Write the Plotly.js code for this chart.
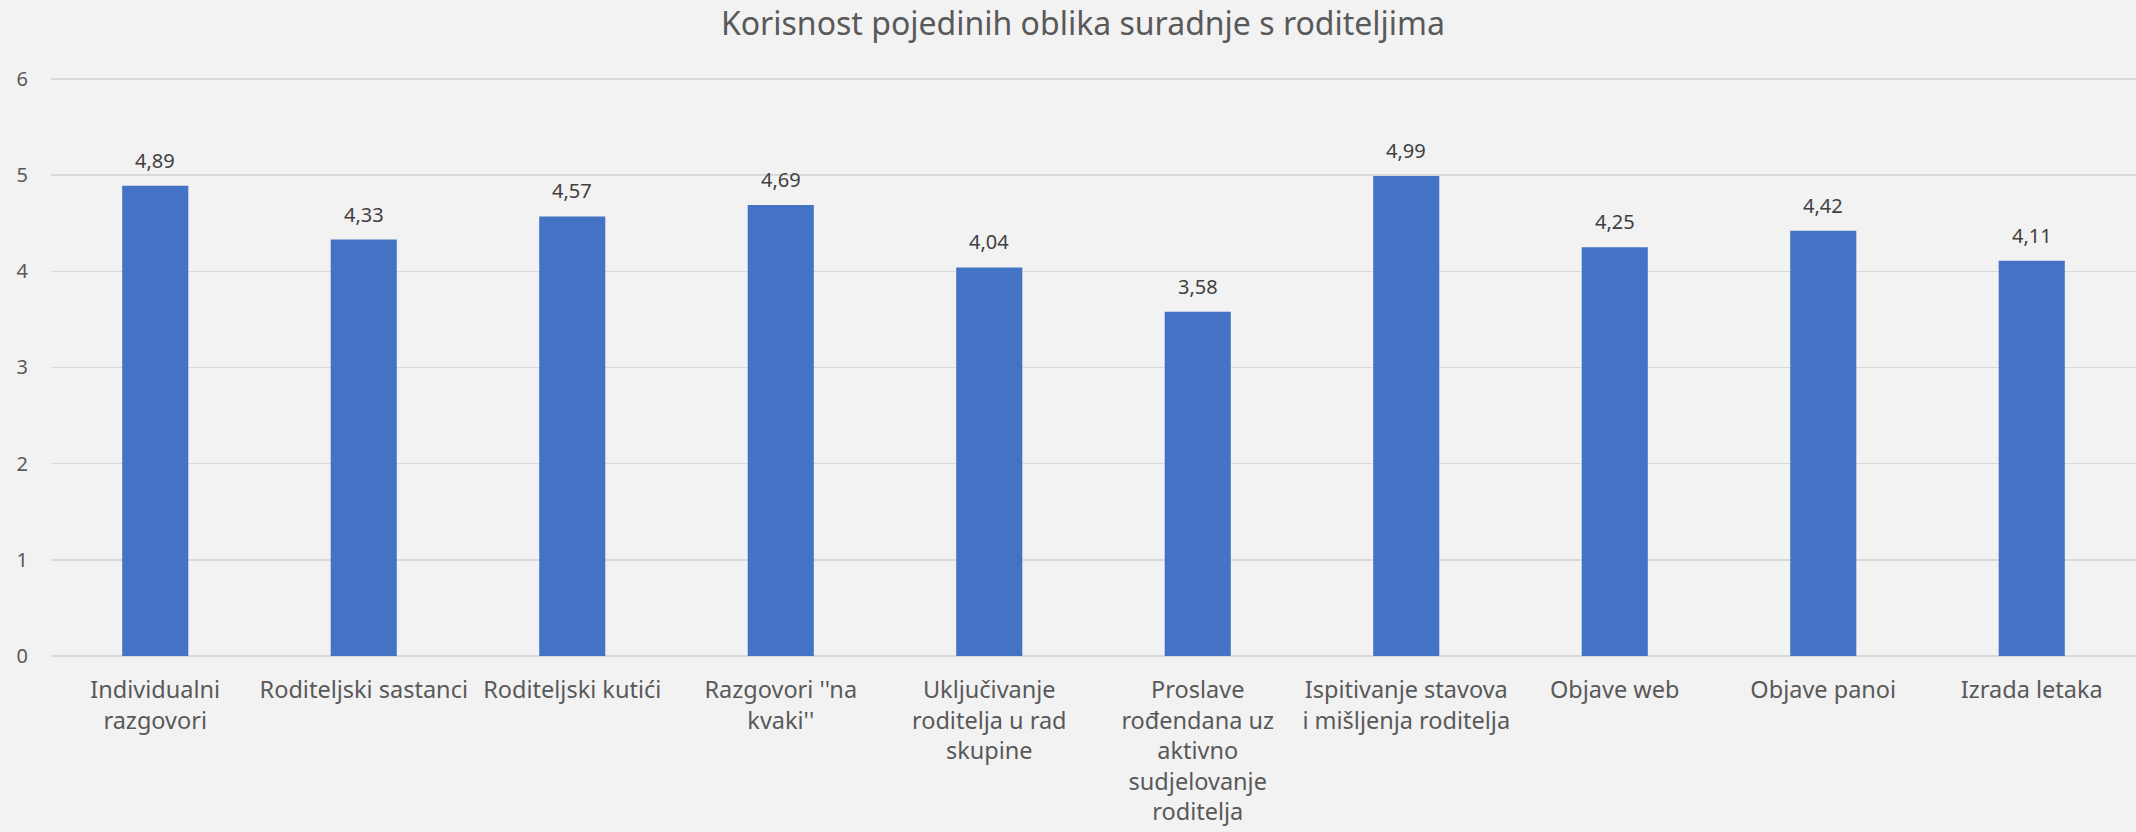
<!DOCTYPE html>
<html>
<head>
<meta charset="utf-8">
<script src="https://cdn.plot.ly/plotly-3.0.1.min.js"></script>
<style>
html, body { margin: 0; padding: 0; background: #F2F2F2; overflow: hidden; }
#chart { width: 2136px; height: 832px; }
</style>
</head>
<body>
<div id="chart"></div>
<script>
const chartTitle = "Korisnost pojedinih oblika suradnje s roditeljima";
const categories = [
  "Individualni<br>razgovori",
  "Roditeljski sastanci",
  "Roditeljski kutići",
  "Razgovori ''na<br>kvaki''",
  "Uključivanje<br>roditelja u rad<br>skupine",
  "Proslave<br>rođendana uz<br>aktivno<br>sudjelovanje<br>roditelja",
  "Ispitivanje stavova<br>i mišljenja roditelja",
  "Objave web",
  "Objave panoi",
  "Izrada letaka"
];
const values = [4.89, 4.33, 4.57, 4.69, 4.04, 3.58, 4.99, 4.25, 4.42, 4.11];
const yTicks = [0, 1, 2, 3, 4, 5, 6];

const FONT = "Noto Sans, Open Sans, sans-serif";

const trace = {
  type: "bar",
  x: categories,
  y: values,
  marker: { color: "#4472C4", line: { width: 0 } },
  hoverinfo: "skip"
};

const annotations = values.map((v, i) => ({
  x: categories[i],
  y: v,
  xref: "x",
  yref: "y",
  text: v.toFixed(2).replace(".", ","),
  showarrow: false,
  yanchor: "bottom",
  yshift: 10,
  font: { family: FONT, size: 20, color: "#404040" }
}));

const layout = {
  width: 2136,
  height: 832,
  paper_bgcolor: "#F2F2F2",
  plot_bgcolor: "#F2F2F2",
  margin: { l: 51, r: 0, t: 76, b: 176 },
  bargap: 0.683,
  showlegend: false,
  title: {
    text: chartTitle,
    font: { family: FONT, size: 32, color: "#595959" },
    xref: "container",
    x: 0.507,
    xanchor: "center",
    yref: "container",
    y: 0.971,
    yanchor: "middle"
  },
  xaxis: {
    type: "category",
    tickfont: { family: FONT, size: 23.5, color: "#595959" },
    ticks: "outside",
    ticklen: 13,
    tickcolor: "rgba(0,0,0,0)",
    showgrid: false,
    showline: false,
    zeroline: false
  },
  yaxis: {
    range: [0, 6.03],
    tickvals: yTicks,
    ticktext: yTicks.map(String),
    tickfont: { family: FONT, size: 20, color: "#595959" },
    ticks: "outside",
    ticklen: 18,
    tickcolor: "rgba(0,0,0,0)",
    showgrid: true,
    gridcolor: "#D9D9D9",
    gridwidth: 1.5,
    zeroline: true,
    zerolinecolor: "#D9D9D9",
    zerolinewidth: 2,
    showline: false
  },
  annotations: annotations
};

Plotly.newPlot("chart", [trace], layout, { displayModeBar: false, staticPlot: true });
</script>
</body>
</html>
